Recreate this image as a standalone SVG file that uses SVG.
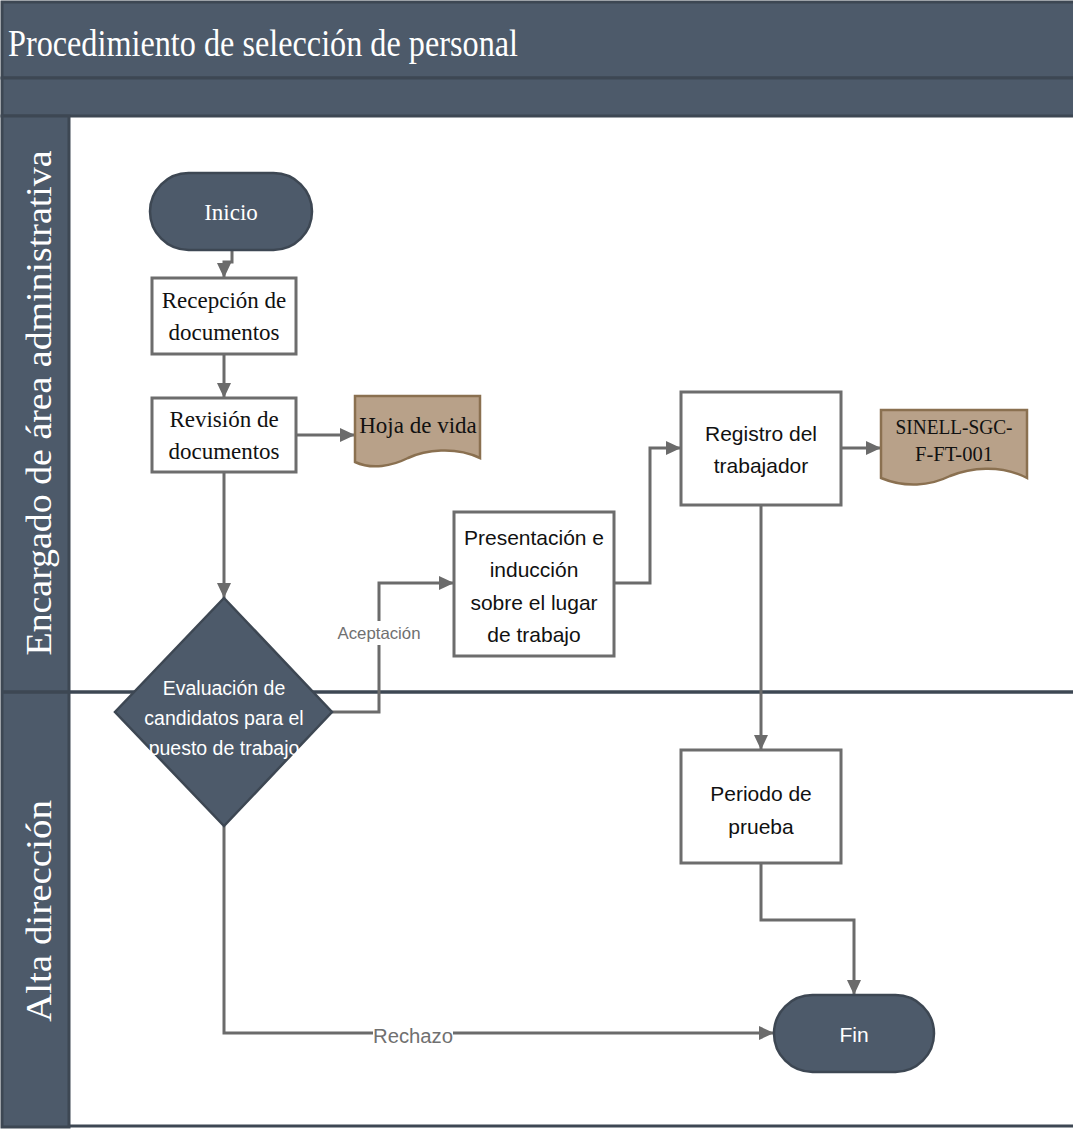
<svg xmlns="http://www.w3.org/2000/svg" width="1073" height="1129" viewBox="0 0 1073 1129">
  <style>
    .band { fill: #4d5a6a; stroke: #3d4753; stroke-width: 3; }
    .term { fill: #4d5a6a; stroke: #3d4753; stroke-width: 2.5; }
    .box { fill: #ffffff; stroke: #6d6d6d; stroke-width: 3; }
    .doc { fill: #b8a189; stroke: #8a7050; stroke-width: 2.5; }
    .conn { fill: none; stroke: #6b6b6b; stroke-width: 3; }
    .serif { font-family: "Liberation Serif", "Times New Roman", serif; }
    .sans { font-family: "Liberation Sans", Arial, sans-serif; }
    .lbl { fill: #111111; text-anchor: middle; }
    .wlbl { fill: #ffffff; text-anchor: middle; }
    .edge { fill: #707070; text-anchor: middle; }
  </style>
  <defs>
    <marker id="arrow" markerUnits="userSpaceOnUse" markerWidth="16" markerHeight="16" refX="15" refY="8" orient="auto">
      <path d="M0,1 L15,8 L0,15 z" fill="#6b6b6b"/>
    </marker>
  </defs>

  <!-- pool frame -->
  <g id="pool">
    <rect x="0" y="0" width="1073" height="1129" fill="#ffffff"/>
    <rect class="band" x="2" y="2" width="1073" height="76"/>
    <rect class="band" x="2" y="78" width="1073" height="38"/>
    <rect class="band" x="2" y="116" width="67" height="1011"/>
    <line x1="69" y1="1126" x2="1073" y2="1126" stroke="#3d4753" stroke-width="3"/>
    <line x1="2" y1="692" x2="1073" y2="692" stroke="#3d4753" stroke-width="3.5"/>
    <text class="serif" x="8" y="56" font-size="38" fill="#ffffff" textLength="510" lengthAdjust="spacingAndGlyphs">Procedimiento de selección de personal</text>
    <text class="serif" transform="translate(51,403) rotate(-90)" font-size="35" fill="#ffffff" text-anchor="middle" textLength="505" lengthAdjust="spacingAndGlyphs">Encargado de área administrativa</text>
    <text class="serif" transform="translate(51,911) rotate(-90)" font-size="35" fill="#ffffff" text-anchor="middle" textLength="222" lengthAdjust="spacingAndGlyphs">Alta dirección</text>
  </g>

  <!-- connectors -->
  <g id="connectors">
    <path class="conn" d="M232,250 V262 H224 V278" marker-end="url(#arrow)"/>
    <path class="conn" d="M224,354 V398" marker-end="url(#arrow)"/>
    <path class="conn" d="M296,435 H355" marker-end="url(#arrow)"/>
    <path class="conn" d="M224,472 V598" marker-end="url(#arrow)"/>
    <path class="conn" d="M332,712 H379 V583 H454" marker-end="url(#arrow)"/>
    <path class="conn" d="M614,583 H650 V448 H681" marker-end="url(#arrow)"/>
    <path class="conn" d="M841,448 H881" marker-end="url(#arrow)"/>
    <path class="conn" d="M761,505 V750" marker-end="url(#arrow)"/>
    <path class="conn" d="M761,863 V920 H854 V995" marker-end="url(#arrow)"/>
    <path class="conn" d="M224,826 V1033 H774" marker-end="url(#arrow)"/>
    <rect x="335" y="621" width="88" height="24" fill="#ffffff"/>
    <text class="sans edge" x="379" y="639" font-size="16.5" textLength="83" lengthAdjust="spacingAndGlyphs">Aceptación</text>
    <rect x="373" y="1022" width="80" height="26" fill="#ffffff"/>
    <text class="sans edge" x="413" y="1043" font-size="20" textLength="80" lengthAdjust="spacingAndGlyphs">Rechazo</text>
  </g>

  <g id="inicio">
    <rect class="term" x="150" y="173" width="162" height="77" rx="38.5"/>
    <text class="serif wlbl" x="231" y="220" font-size="23">Inicio</text>
  </g>

  <g id="recepcion">
    <rect class="box" x="152" y="278" width="144" height="76"/>
    <text class="serif lbl" x="224" y="308" font-size="23">Recepción de</text>
    <text class="serif lbl" x="224" y="340" font-size="23">documentos</text>
  </g>

  <g id="revision">
    <rect class="box" x="152" y="398" width="144" height="74"/>
    <text class="serif lbl" x="224" y="427" font-size="23">Revisión de</text>
    <text class="serif lbl" x="224" y="459" font-size="23">documentos</text>
  </g>

  <g id="hoja-de-vida">
    <path class="doc" d="M355,396 H480 V458 C455,446 425,450 408,458 C392,466 372,470 355,462 Z"/>
    <text class="serif lbl" x="418" y="433" font-size="23">Hoja de vida</text>
  </g>

  <g id="evaluacion">
    <polygon class="term" points="224,598 332,712 224,826 115,712"/>
    <text class="sans wlbl" x="224" y="695" font-size="19.5">Evaluación de</text>
    <text class="sans wlbl" x="224" y="725" font-size="19.5">candidatos para el</text>
    <text class="sans wlbl" x="224" y="755" font-size="19.5">puesto de trabajo</text>
  </g>

  <g id="presentacion">
    <rect class="box" x="454" y="512" width="160" height="144"/>
    <text class="sans lbl" x="534" y="545" font-size="21">Presentación e</text>
    <text class="sans lbl" x="534" y="577" font-size="21">inducción</text>
    <text class="sans lbl" x="534" y="610" font-size="21">sobre el lugar</text>
    <text class="sans lbl" x="534" y="642" font-size="21">de trabajo</text>
  </g>

  <g id="registro">
    <rect class="box" x="681" y="392" width="160" height="113"/>
    <text class="sans lbl" x="761" y="441" font-size="21">Registro del</text>
    <text class="sans lbl" x="761" y="473" font-size="21">trabajador</text>
  </g>

  <g id="sinell">
    <path class="doc" d="M881,410 H1027 V478 C1000,464 970,468 950,476 C930,486 905,488 881,478 Z"/>
    <text class="serif lbl" x="954" y="434" font-size="22" textLength="117" lengthAdjust="spacingAndGlyphs">SINELL-SGC-</text>
    <text class="serif lbl" x="954" y="461" font-size="22" textLength="78" lengthAdjust="spacingAndGlyphs">F-FT-001</text>
  </g>

  <g id="periodo">
    <rect class="box" x="681" y="750" width="160" height="113"/>
    <text class="sans lbl" x="761" y="801" font-size="21">Periodo de</text>
    <text class="sans lbl" x="761" y="834" font-size="21">prueba</text>
  </g>

  <g id="fin">
    <rect class="term" x="774" y="995" width="160" height="77" rx="38.5"/>
    <text class="sans wlbl" x="854" y="1042" font-size="21">Fin</text>
  </g>
</svg>
